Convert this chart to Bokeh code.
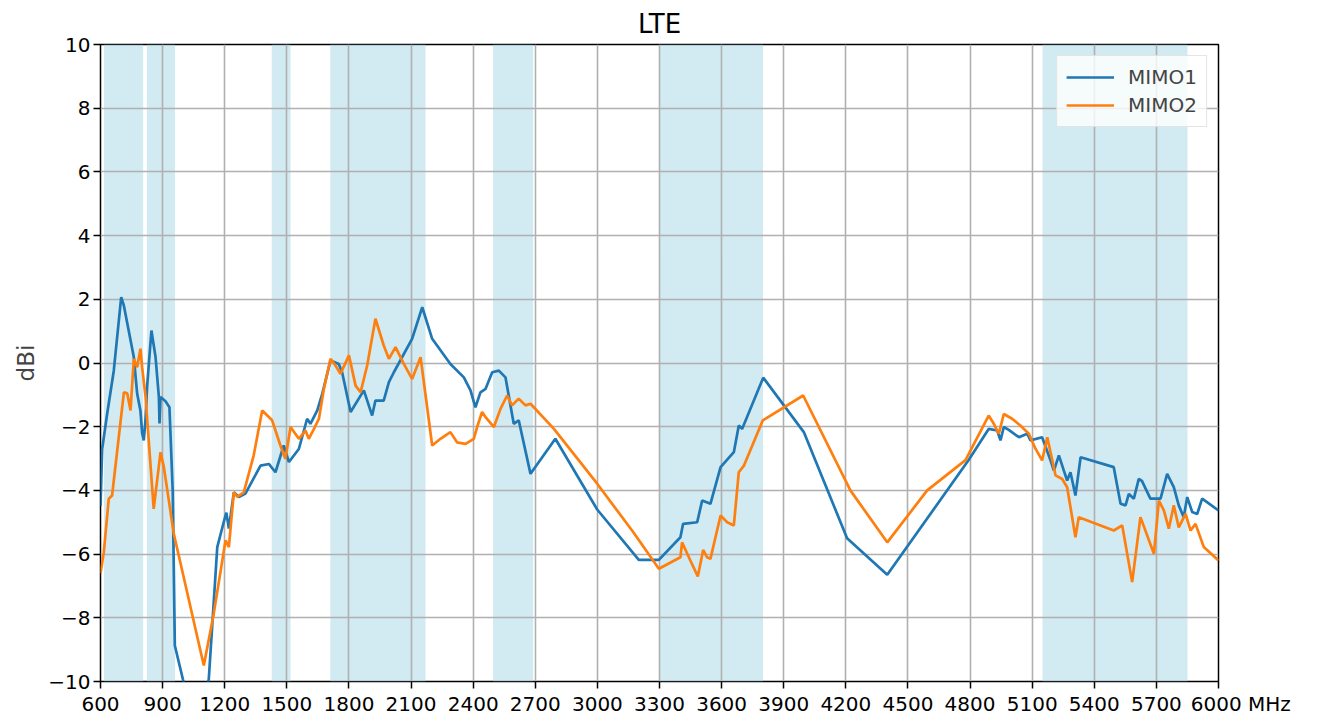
from bokeh.plotting import figure
from bokeh.models import ColumnDataSource, Legend, LegendItem, FixedTicker, Range1d
from bokeh.embed import file_html
from bokeh.resources import INLINE

# ---- data ----
title_text = "LTE"
y_label = "dBi"
x_unit = "MHz"
series_names = ["MIMO1", "MIMO2"]

x_ticks = [600, 900, 1200, 1500, 1800, 2100, 2400, 2700, 3000, 3300, 3600,
           3900, 4200, 4500, 4800, 5100, 5400, 5700, 6000]
y_ticks = [-10, -8, -6, -4, -2, 0, 2, 4, 6, 8, 10]

band_start = [617, 824, 1427, 1710, 2496, 3300, 5150]
band_end = [806, 960, 1518, 2170, 2690, 3800, 5850]

mimo1_freq = [600, 608, 632, 664, 700, 713, 761, 777, 793, 801, 809, 817, 825, 846,
              866, 882, 885, 890, 914, 933, 949, 959, 998, 1060, 1123, 1164, 1195,
              1208, 1220, 1244, 1268, 1300, 1373, 1413, 1445, 1485, 1510, 1558,
              1598, 1614, 1647, 1671, 1711, 1751, 1767, 1808, 1872, 1912, 1928,
              1968, 1993, 2017, 2105, 2154, 2202, 2290, 2355, 2387, 2411, 2435,
              2460, 2492, 2524, 2556, 2596, 2620, 2677, 2797, 2999, 3200, 3297,
              3401, 3414, 3482, 3506, 3546, 3595, 3659, 3683, 3699, 3801, 3997,
              4206, 4400, 4794, 4890, 4931, 4947, 4963, 4987, 5036, 5076, 5092,
              5148, 5189, 5205, 5229, 5253, 5269, 5285, 5309, 5334, 5494, 5527,
              5551, 5567, 5591, 5615, 5630, 5671, 5720, 5752, 5784, 5808, 5832,
              5849, 5873, 5897, 5921, 6000]
mimo1_gain = [-4.5, -2.7, -1.6, -0.25, 2.07, 1.8, 0.18, -0.96, -1.5, -2.2, -2.43, -1.8,
              -0.76, 1.02, 0.18, -1.07, -1.9, -1.07, -1.2, -1.39, -4.06, -8.87, -9.93,
              -11.5, -9.93, -5.78, -5.0, -4.7, -5.2, -4.06, -4.21, -4.1, -3.22, -3.17,
              -3.43, -2.59, -3.11, -2.7, -1.75, -1.91, -1.49, -0.97, 0.08, -0.03,
              -0.29, -1.54, -0.86, -1.65, -1.18, -1.18, -0.6, -0.29, 0.76, 1.75,
              0.76, -0.03, -0.45, -0.86, -1.39, -0.92, -0.81, -0.29, -0.24, -0.45,
              -1.91, -1.8, -3.48, -2.38, -4.6, -6.18, -6.18, -5.47, -5.05, -5.0,
              -4.32, -4.42, -3.27, -2.8, -1.96, -2.07, -0.46, -2.17, -5.5, -6.65,
              -3.04, -2.07, -2.12, -2.43, -2.01, -2.1, -2.33, -2.22, -2.43, -2.33,
              -3.06, -3.38, -2.9, -3.38, -3.69, -3.43, -4.16, -2.96, -3.27, -4.42,
              -4.47, -4.11, -4.26, -3.64, -3.7, -4.26, -4.26, -3.48, -3.9, -4.47,
              -4.84, -4.21, -4.68, -4.74, -4.26, -4.63]

mimo2_freq = [600, 616, 640, 656, 713, 729, 745, 761, 777, 793, 801, 817, 857, 890,
              906, 954, 1099, 1147, 1204, 1220, 1244, 1260, 1292, 1340, 1381, 1429,
              1469, 1493, 1518, 1558, 1590, 1606, 1631, 1655, 1679, 1711, 1735,
              1759, 1800, 1832, 1856, 1888, 1928, 1968, 1993, 2025, 2065, 2105,
              2146, 2202, 2242, 2290, 2322, 2363, 2403, 2419, 2443, 2460, 2500,
              2532, 2564, 2588, 2620, 2653, 2677, 2790, 2999, 3172, 3297, 3401,
              3409, 3449, 3485, 3511, 3530, 3546, 3595, 3627, 3659, 3683, 3708,
              3799, 3994, 4222, 4400, 4593, 4778, 4890, 4914, 4939, 4963, 5003,
              5043, 5084, 5116, 5148, 5173, 5213, 5245, 5269, 5309, 5325, 5494,
              5535, 5583, 5623, 5688, 5712, 5736, 5760, 5784, 5808, 5841, 5865,
              5889, 5929, 6000]
mimo2_gain = [-6.6, -5.94, -4.26, -4.16, -0.92, -0.95, -1.49, 0.13, -0.13, 0.45, -0.13,
              -1.02, -4.58, -2.8, -3.27, -5.36, -9.5, -7.87, -5.57, -5.78, -4.06, -4.2,
              -4.06, -2.9, -1.49, -1.8, -2.59, -3.01, -2.01, -2.38, -2.12, -2.38,
              -2.07, -1.75, -0.81, 0.13, -0.08, -0.34, 0.24, -0.71, -0.92, -0.08,
              1.39, 0.55, 0.13, 0.5, -0.03, -0.5, 0.18, -2.59, -2.38, -2.17, -2.49,
              -2.54, -2.38, -2.01, -1.54, -1.7, -2.01, -1.44, -1.02, -1.33, -1.12,
              -1.33, -1.28, -2.07, -3.79, -5.3, -6.46, -6.1, -5.63, -6.2, -6.7,
              -5.87, -6.1, -6.15, -4.79, -5.0, -5.1, -3.43, -3.22, -1.8, -1.02,
              -4.0, -5.63, -4.0, -3.05, -1.65, -1.9, -2.22, -1.6, -1.75, -1.96,
              -2.22, -2.69, -3.06, -2.33, -3.53, -3.64, -3.9, -5.47, -4.84, -5.26,
              -5.1, -6.88, -4.84, -5.99, -4.32, -4.63, -5.2, -4.47, -5.16, -4.74,
              -5.26, -5.05, -5.78, -6.2]

# ---- figure ----
FONT = "DejaVu Sans"
p = figure(width=1310, height=718, output_backend="svg", toolbar_location=None,
           x_range=Range1d(600, 6000), y_range=Range1d(-10, 10),
           min_border_left=100, min_border_right=92, min_border_top=44,
           min_border_bottom=37)
p.background_fill_color = "white"
p.border_fill_color = "white"
p.outline_line_color = "black"
p.outline_line_width = 1.5

p.title.text = title_text
p.title.align = "center"
p.title.text_font = FONT
p.title.text_font_size = "26px"
p.title.text_font_style = "normal"
p.title.text_color = "black"
p.title.standoff = 12

bands = ColumnDataSource(dict(left=band_start, right=band_end))
p.quad(left="left", right="right", bottom=-10, top=10, source=bands,
       fill_color="#add8e6", fill_alpha=0.55, line_color=None, level="image")

s1 = ColumnDataSource(dict(x=mimo1_freq, y=mimo1_gain))
s2 = ColumnDataSource(dict(x=mimo2_freq, y=mimo2_gain))
r1 = p.line("x", "y", source=s1, line_color="#1f77b4", line_width=2.7)
r2 = p.line("x", "y", source=s2, line_color="#ff7f0e", line_width=2.7)

for ax in (p.xaxis[0], p.yaxis[0]):
    ax.major_label_text_font = FONT
    ax.major_label_text_font_size = "20px"
    ax.major_label_text_color = "black"
    ax.axis_line_color = None
    ax.major_tick_line_color = "black"
    ax.major_tick_line_width = 1.5
    ax.major_tick_out = 7
    ax.major_tick_in = 0
    ax.minor_tick_line_color = None
    ax.major_label_standoff = 3

p.xaxis.ticker = FixedTicker(ticks=x_ticks)
p.yaxis.ticker = FixedTicker(ticks=y_ticks)
# last tick carries the unit, as in the reference ("6000 MHz")
pad = "\u00a0" * 7
p.xaxis.major_label_overrides = {x_ticks[-1]: pad + str(x_ticks[-1]) + " " + x_unit}
p.yaxis.axis_label = y_label
p.yaxis.axis_label_text_font = FONT
p.yaxis.axis_label_text_font_size = "23px"
p.yaxis.axis_label_text_font_style = "normal"
p.yaxis.axis_label_standoff = 6

p.xgrid.ticker = FixedTicker(ticks=x_ticks)
p.ygrid.ticker = FixedTicker(ticks=y_ticks)
for g in (p.xgrid[0], p.ygrid[0]):
    g.grid_line_color = "#b0b0b0"
    g.grid_line_width = 1.6

legend = Legend(items=[LegendItem(label=series_names[0], renderers=[r1]),
                       LegendItem(label=series_names[1], renderers=[r2])],
                location="top_right")
legend.label_text_font = FONT
legend.label_text_font_size = "20px"
legend.glyph_width = 48
legend.glyph_height = 22
legend.label_height = 22
legend.label_standoff = 14
legend.spacing = 4
legend.padding = 9
legend.margin = 11
legend.border_line_color = "#cccccc"
legend.border_line_width = 1.2
legend.background_fill_alpha = 0.8
p.add_layout(legend)

open("out.html", "w").write(file_html(p, INLINE))
